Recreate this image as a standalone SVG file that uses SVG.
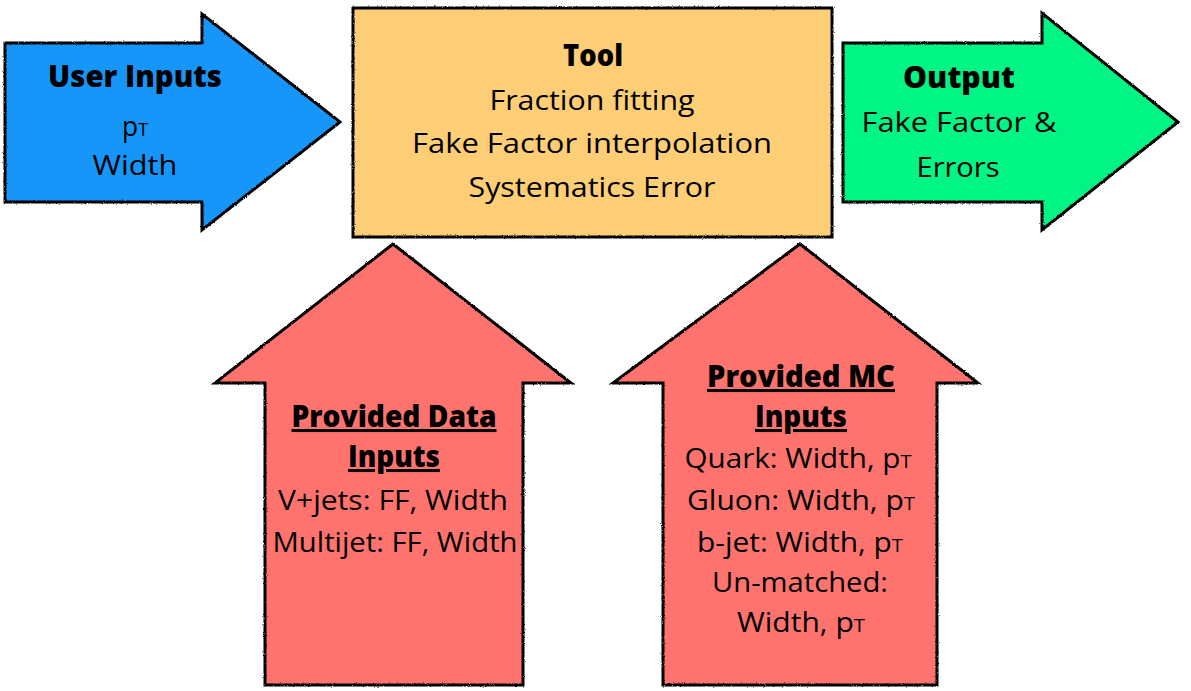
<svg xmlns="http://www.w3.org/2000/svg" width="1191" height="691" viewBox="0 0 1191 691">
<defs>
<filter id="rough" x="-5%" y="-5%" width="110%" height="110%">
<feTurbulence type="fractalNoise" baseFrequency="0.9" numOctaves="2" seed="3" result="n"/>
<feDisplacementMap in="SourceGraphic" in2="n" scale="2.2" xChannelSelector="R" yChannelSelector="G"/>
</filter>
</defs>
<style>
.shape{stroke:#000;stroke-width:3;stroke-linejoin:miter;filter:url(#rough)}
.t{font-family:"Open Sans","Noto Sans","Liberation Sans",sans-serif;font-size:28px;fill:#000;text-anchor:middle}
.b{font-weight:800;font-size:30.5px}
.u{text-decoration:underline}
.sub{font-size:19px}
</style>
<rect width="1191" height="691" fill="#fff"/>
<g id="user-inputs">
<path class="shape" fill="#1396F8" d="M5,43 H202 V14 L340,122 L202,230 V202 H5 Z"/>
<text class="t b" x="135" y="87" textLength="174" lengthAdjust="spacingAndGlyphs">User Inputs</text>
<text class="t" x="135" y="136" textLength="26" lengthAdjust="spacingAndGlyphs">p<tspan class="sub">T</tspan></text>
<text class="t" x="135" y="175" textLength="85" lengthAdjust="spacingAndGlyphs">Width</text>
</g>
<g id="tool">
<rect class="shape" fill="#FDCE74" x="353" y="8" width="479" height="229"/>
<text class="t b" x="593" y="66" textLength="60" lengthAdjust="spacingAndGlyphs">Tool</text>
<text class="t" x="592" y="110" textLength="205" lengthAdjust="spacingAndGlyphs">Fraction fitting</text>
<text class="t" x="592" y="153" textLength="360" lengthAdjust="spacingAndGlyphs">Fake Factor interpolation</text>
<text class="t" x="592" y="197" textLength="247" lengthAdjust="spacingAndGlyphs">Systematics Error</text>
</g>
<g id="output">
<path class="shape" fill="#02F585" d="M843,43 H1042 V13 L1178,122 L1042,230 V202 H843 Z"/>
<text class="t b" x="959" y="88" textLength="112" lengthAdjust="spacingAndGlyphs">Output</text>
<text class="t" x="959" y="132" textLength="195" lengthAdjust="spacingAndGlyphs">Fake Factor &amp;</text>
<text class="t" x="958" y="177" textLength="83" lengthAdjust="spacingAndGlyphs">Errors</text>
</g>
<g id="data-inputs">
<path class="shape" fill="#FF736E" d="M393,244 L571,383 H523 V685 H265 V383 H215 Z"/>
<text class="t b u" x="394" y="427" textLength="205" lengthAdjust="spacingAndGlyphs">Provided Data</text>
<text class="t b u" x="394" y="467" textLength="92" lengthAdjust="spacingAndGlyphs">Inputs</text>
<text class="t" x="393" y="510" textLength="230" lengthAdjust="spacingAndGlyphs">V+jets: FF, Width</text>
<text class="t" x="395" y="552" textLength="245" lengthAdjust="spacingAndGlyphs">Multijet: FF, Width</text>
</g>
<g id="mc-inputs">
<path class="shape" fill="#FF736E" d="M800,244 L978,383 H937 V685 H663 V383 H613 Z"/>
<text class="t b u" x="801" y="387" textLength="188" lengthAdjust="spacingAndGlyphs">Provided MC</text>
<text class="t b u" x="801" y="427" textLength="92" lengthAdjust="spacingAndGlyphs">Inputs</text>
<text class="t" x="798" y="468" textLength="227" lengthAdjust="spacingAndGlyphs">Quark: Width, p<tspan class="sub">T</tspan></text>
<text class="t" x="801" y="510" textLength="228" lengthAdjust="spacingAndGlyphs">Gluon: Width, p<tspan class="sub">T</tspan></text>
<text class="t" x="800" y="552" textLength="206" lengthAdjust="spacingAndGlyphs">b-jet: Width, p<tspan class="sub">T</tspan></text>
<text class="t" x="800" y="592" textLength="176" lengthAdjust="spacingAndGlyphs">Un-matched:</text>
<text class="t" x="801" y="632" textLength="128" lengthAdjust="spacingAndGlyphs">Width, p<tspan class="sub">T</tspan></text>
</g>
<g id="connectors"></g>
</svg>
